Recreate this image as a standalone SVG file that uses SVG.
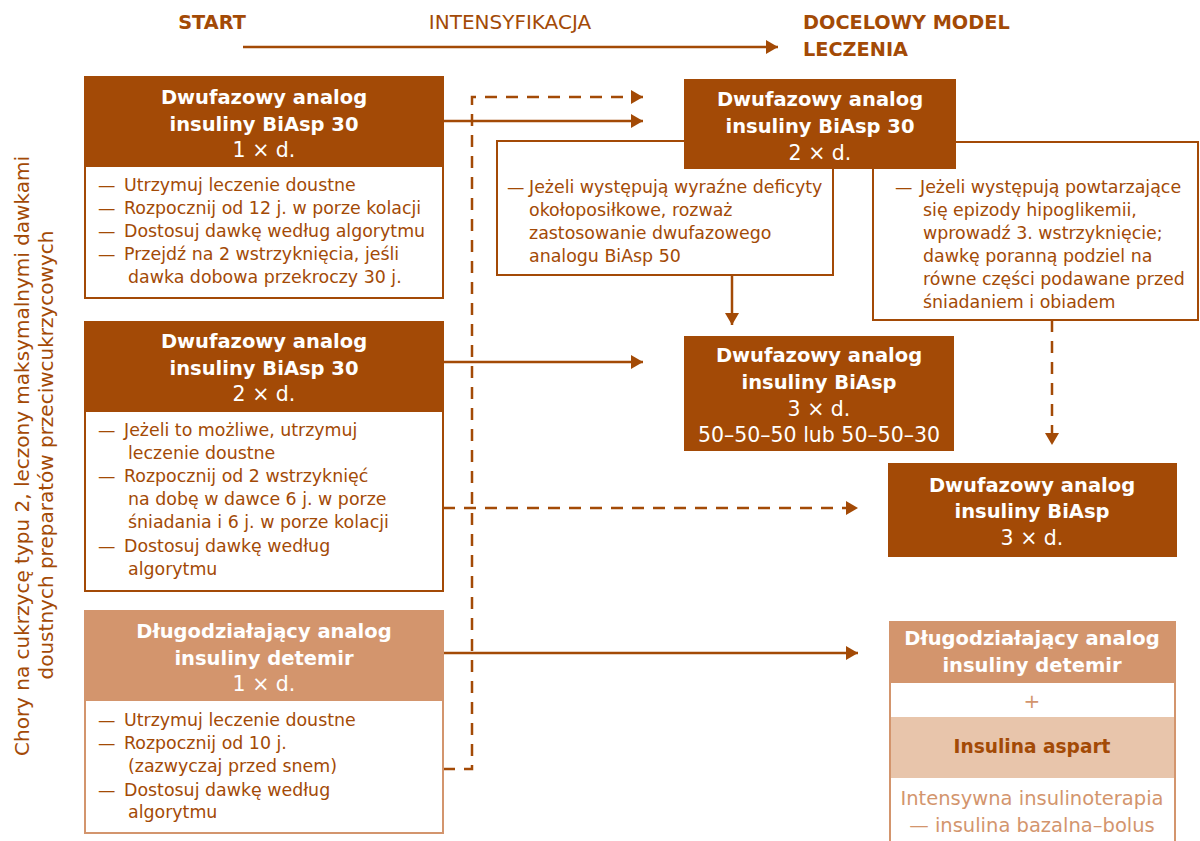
<svg xmlns="http://www.w3.org/2000/svg" width="1200" height="841" viewBox="0 0 1200 841">
<style>
  text { font-family: "DejaVu Sans", "Liberation Sans", sans-serif; }
  .hd { font-size: 19.3px; font-weight: bold; fill: #A34A06; }
  .hdr { font-size: 20px; fill: #A34A06; }
  .ttl { font-size: 19.5px; font-weight: bold; fill: #FFFFFF; text-anchor: middle; }
  .ttn { font-size: 20.5px; fill: #FFFFFF; text-anchor: middle; }
  .bd { font-size: 17.4px; fill: #A34A06; }
  .side { font-size: 20px; fill: #A34A06; text-anchor: middle; }
  .dk { fill: #A34A06; }
  .lt { fill: #D3956D; }
  .box { fill: #FFFFFF; stroke: #A34A06; stroke-width: 2; }
  .boxl { fill: #FFFFFF; stroke: #D3956D; stroke-width: 2; }
  .ln { fill: none; stroke: #A34A06; stroke-width: 2.5; }
  .dash { fill: none; stroke: #A34A06; stroke-width: 2.5; stroke-dasharray: 12 9; }
</style>
<defs>
  <marker id="ah" viewBox="0 0 12 14" refX="12" refY="7" markerWidth="12" markerHeight="14" orient="auto" markerUnits="userSpaceOnUse">
    <path d="M0,0 L12,7 L0,14 z" fill="#A34A06"/>
  </marker>
</defs>

<g id="header">
  <text class="hd" x="212" y="29" text-anchor="middle">START</text>
  <text class="hdr" x="510" y="29" text-anchor="middle">INTENSYFIKACJA</text>
  <text class="hd" x="803" y="29">DOCELOWY MODEL</text>
  <text class="hd" x="803" y="56">LECZENIA</text>
</g>

<g id="side-label">
  <text class="side" transform="translate(29,456) rotate(-90)">Chory na cukrzycę typu 2, leczony maksymalnymi dawkami</text>
  <text class="side" transform="translate(53,455) rotate(-90)">doustnych preparatów przeciwcukrzycowych</text>
</g>

<g id="connectors">
  <line class="ln" x1="243" y1="47" x2="778" y2="47" marker-end="url(#ah)"/>
  <line class="ln" x1="443" y1="121" x2="643" y2="121" marker-end="url(#ah)"/>
  <path class="dash" d="M443,769 L472,769 L472,97 L643,97" marker-end="url(#ah)"/>
  <line class="ln" x1="443" y1="362" x2="643" y2="362" marker-end="url(#ah)"/>
  <line class="dash" x1="443" y1="508" x2="858" y2="508" marker-end="url(#ah)"/>
  <line class="ln" x1="443" y1="653" x2="858" y2="653" marker-end="url(#ah)"/>
  <line class="ln" x1="732" y1="275" x2="732" y2="325" marker-end="url(#ah)"/>
  <line class="dash" x1="1052" y1="320" x2="1052" y2="445" marker-end="url(#ah)"/>
</g>

<g id="start-1">
  <rect class="box" x="85" y="77" width="358" height="221"/>
  <rect class="dk" x="84" y="76" width="360" height="91"/>
  <text class="ttl" x="264" y="104">Dwufazowy analog</text>
  <text class="ttl" x="264" y="131">insuliny BiAsp 30</text>
  <text class="ttn" x="264" y="157">1 × d.</text>
  <text class="bd" y="191"><tspan x="98">— </tspan><tspan x="124">Utrzymuj leczenie doustne</tspan></text>
  <text class="bd" y="214"><tspan x="98">— </tspan><tspan x="124">Rozpocznij od 12 j. w porze kolacji</tspan></text>
  <text class="bd" y="237"><tspan x="98">— </tspan><tspan x="124">Dostosuj dawkę według algorytmu</tspan></text>
  <text class="bd" y="260"><tspan x="98">— </tspan><tspan x="124">Przejdź na 2 wstrzyknięcia, jeśli</tspan></text>
  <text class="bd" x="128" y="283">dawka dobowa przekroczy 30 j.</text>
</g>

<g id="start-2">
  <rect class="box" x="85" y="322" width="358" height="269"/>
  <rect class="dk" x="84" y="321" width="360" height="91"/>
  <text class="ttl" x="264" y="348">Dwufazowy analog</text>
  <text class="ttl" x="264" y="375">insuliny BiAsp 30</text>
  <text class="ttn" x="264" y="401">2 × d.</text>
  <text class="bd" y="436"><tspan x="98">— </tspan><tspan x="124">Jeżeli to możliwe, utrzymuj</tspan></text>
  <text class="bd" x="128" y="459">leczenie doustne</text>
  <text class="bd" y="482"><tspan x="98">— </tspan><tspan x="124">Rozpocznij od 2 wstrzyknięć</tspan></text>
  <text class="bd" x="128" y="505">na dobę w dawce 6 j. w porze</text>
  <text class="bd" x="128" y="528">śniadania i 6 j. w porze kolacji</text>
  <text class="bd" y="552"><tspan x="98">— </tspan><tspan x="124">Dostosuj dawkę według</tspan></text>
  <text class="bd" x="128" y="575">algorytmu</text>
</g>

<g id="start-3">
  <rect class="boxl" x="85" y="611" width="358" height="222"/>
  <rect class="lt" x="84" y="610" width="360" height="91"/>
  <text class="ttl" x="264" y="638">Długodziałający analog</text>
  <text class="ttl" x="264" y="665">insuliny detemir</text>
  <text class="ttn" x="264" y="691">1 × d.</text>
  <text class="bd" y="726"><tspan x="98">— </tspan><tspan x="124">Utrzymuj leczenie doustne</tspan></text>
  <text class="bd" y="749"><tspan x="98">— </tspan><tspan x="124">Rozpocznij od 10 j.</tspan></text>
  <text class="bd" x="128" y="772">(zazwyczaj przed snem)</text>
  <text class="bd" y="796"><tspan x="98">— </tspan><tspan x="124">Dostosuj dawkę według</tspan></text>
  <text class="bd" x="128" y="818">algorytmu</text>
</g>

<g id="note-left">
  <rect class="box" x="497" y="141" width="336" height="134"/>
  <text class="bd" y="193"><tspan x="507">— </tspan><tspan x="529">Jeżeli występują wyraźne deficyty</tspan></text>
  <text class="bd" x="529" y="216">okołoposiłkowe, rozważ</text>
  <text class="bd" x="529" y="239">zastosowanie dwufazowego</text>
  <text class="bd" x="529" y="262">analogu BiAsp 50</text>
</g>

<g id="note-right">
  <rect class="box" x="873" y="142" width="325" height="178"/>
  <text class="bd" y="193"><tspan x="895">— </tspan><tspan x="920">Jeżeli występują powtarzające</tspan></text>
  <text class="bd" x="923" y="216">się epizody hipoglikemii,</text>
  <text class="bd" x="923" y="239">wprowadź 3. wstrzyknięcie;</text>
  <text class="bd" x="923" y="262">dawkę poranną podziel na</text>
  <text class="bd" x="923" y="285">równe części podawane przed</text>
  <text class="bd" x="923" y="308">śniadaniem i obiadem</text>
</g>

<g id="target-biasp30-2x">
  <rect class="dk" x="684" y="79" width="272" height="90"/>
  <text class="ttl" x="820" y="106">Dwufazowy analog</text>
  <text class="ttl" x="820" y="133">insuliny BiAsp 30</text>
  <text class="ttn" x="820" y="160">2 × d.</text>
</g>

<g id="target-biasp-3x-mix">
  <rect class="dk" x="684" y="336" width="270" height="115"/>
  <text class="ttl" x="819" y="362">Dwufazowy analog</text>
  <text class="ttl" x="819" y="389">insuliny BiAsp</text>
  <text class="ttn" x="819" y="416">3 × d.</text>
  <text class="ttn" x="819" y="442">50–50–50 lub 50–50–30</text>
</g>

<g id="target-biasp-3x">
  <rect class="dk" x="888" y="463" width="289" height="94"/>
  <text class="ttl" x="1032" y="492">Dwufazowy analog</text>
  <text class="ttl" x="1032" y="518">insuliny BiAsp</text>
  <text class="ttn" x="1032" y="545">3 × d.</text>
</g>

<g id="target-basal-bolus">
  <rect class="boxl" x="890" y="622" width="285" height="240"/>
  <rect class="lt" x="889" y="621" width="287" height="62"/>
  <rect fill="#E8C5AB" x="891" y="717" width="283" height="61"/>
  <text class="ttl" x="1032" y="645">Długodziałający analog</text>
  <text class="ttl" x="1032" y="672">insuliny detemir</text>
  <text x="1032" y="708" font-size="20" fill="#D3956D" text-anchor="middle">+</text>
  <text x="1032" y="753" font-size="18.6" font-weight="bold" fill="#A34A06" text-anchor="middle">Insulina aspart</text>
  <text x="1032" y="805" font-size="19.5" fill="#D3956D" text-anchor="middle">Intensywna insulinoterapia</text>
  <text x="1032" y="832" font-size="19.5" fill="#D3956D" text-anchor="middle">— insulina bazalna–bolus</text>
</g>
</svg>
